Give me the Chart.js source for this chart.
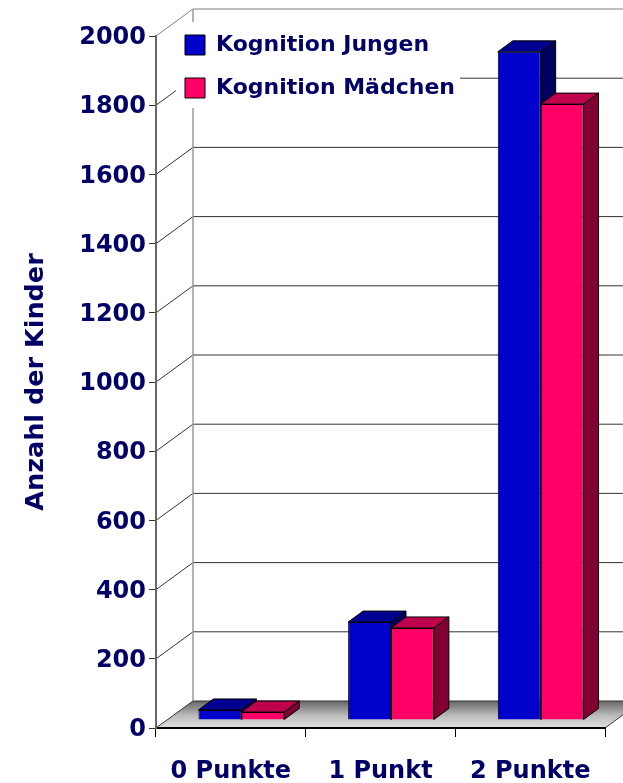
<!DOCTYPE html>
<html><head><meta charset="utf-8">
<style>html,body{margin:0;padding:0;background:#fff}canvas{display:block}</style>
<script src="https://cdn.jsdelivr.net/npm/chart.js@4"></script>
</head><body><canvas id="c" width="623" height="783"></canvas>
<script>
const categories = ['0 Punkte', '1 Punkt', '2 Punkte'];
const jungen = [29, 283, 1931];
const maedchen = [23, 266, 1780];
const seriesNames = ['Kognition Jungen', 'Kognition Mädchen'];
const yTickStep = 200;
const yMax = 2000;

const FONT = '"DejaVu Sans", sans-serif';
const NAVY = '#000066';
const WALL = {dx: 37, dy: 27};       // depth of the chart box
const BAR_SHIFT = {dx: 10.5, dy: 8}; // bars stand inside the floor
const BAR_DEPTH = {dx: 15, dy: 11};
const SHADES = [{top: '#000090', side: '#000060'}, {top: '#BF004D', side: '#800033'}];

const box3d = {
  id: 'box3d',
  afterDatasetsUpdate(chart) {
    chart.getSortedVisibleDatasetMetas().forEach(m => m.data.forEach(el => {
      el.x += BAR_SHIFT.dx; el.y -= BAR_SHIFT.dy; el.base -= BAR_SHIFT.dy;
    }));
  },
  afterLayout(chart) {
    const l = chart.legend;
    const w = l.width, h = l.height;
    l.left = 164; l.right = 164 + w; l.top = 13; l.bottom = 13 + h;
  },
  beforeDraw(chart) {
    const {ctx, chartArea: a, scales: {y}} = chart;
    const W = chart.width;
    ctx.save();
    // floor
    const y0 = y.getPixelForValue(0);
    const g = ctx.createLinearGradient(0, y0 - WALL.dy, 0, y0);
    g.addColorStop(0, '#666666'); g.addColorStop(.55, '#bdbdbd'); g.addColorStop(1, '#e0e0e0');
    ctx.fillStyle = g;
    ctx.beginPath();
    ctx.moveTo(a.left, y0); ctx.lineTo(a.right, y0);
    ctx.lineTo(a.right + WALL.dx, y0 - WALL.dy); ctx.lineTo(a.left + WALL.dx, y0 - WALL.dy);
    ctx.closePath(); ctx.fill();
    // walls
    for (let v = 0; v <= yMax; v += yTickStep) {
      const p = y.getPixelForValue(v);
      ctx.lineWidth = 1;
      ctx.strokeStyle = v === yMax ? '#808080' : '#333333';
      ctx.beginPath();
      ctx.moveTo(a.left, p); ctx.lineTo(a.left + WALL.dx, p - WALL.dy);
      ctx.lineTo(W, p - WALL.dy);
      ctx.stroke();
    }
    ctx.strokeStyle = '#333333';
    ctx.beginPath();
    ctx.moveTo(a.right, y0); ctx.lineTo(a.right + WALL.dx, y0 - WALL.dy);
    ctx.stroke();
    ctx.strokeStyle = '#9a9a9a'; ctx.lineWidth = 1.5;
    ctx.beginPath();
    ctx.moveTo(a.left + WALL.dx, y.getPixelForValue(yMax) - WALL.dy);
    ctx.lineTo(a.left + WALL.dx, y0 - WALL.dy);
    ctx.stroke();
    // legend background
    ctx.fillStyle = '#fff';
    ctx.fillRect(a.left + 20, y.getPixelForValue(yMax) - 14, 284, 86);
    ctx.restore();
  },
  beforeDatasetsDraw(chart) {
    const {ctx} = chart;
    ctx.save();
    ctx.lineWidth = 1; ctx.strokeStyle = '#000'; ctx.lineJoin = 'round';
    const n = chart.data.labels.length;
    for (let i = 0; i < n; i++) {
      chart.data.datasets.forEach((ds, d) => {
        const el = chart.getDatasetMeta(d).data[i];
        const L = el.x - el.width / 2, R = el.x + el.width / 2, T = el.y, B = el.base;
        const {dx, dy} = BAR_DEPTH;
        ctx.fillStyle = SHADES[d].top;
        ctx.beginPath();
        ctx.moveTo(L, T); ctx.lineTo(L + dx, T - dy); ctx.lineTo(R + dx, T - dy); ctx.lineTo(R, T);
        ctx.closePath(); ctx.fill(); ctx.stroke();
        ctx.fillStyle = SHADES[d].side;
        ctx.beginPath();
        ctx.moveTo(R, T); ctx.lineTo(R + dx, T - dy); ctx.lineTo(R + dx, B - dy); ctx.lineTo(R, B);
        ctx.closePath(); ctx.fill(); ctx.stroke();
      });
    }
    ctx.restore();
  }
};

new Chart(document.getElementById('c'), {
  type: 'bar',
  data: {
    labels: categories,
    datasets: [
      {label: seriesNames[0], data: jungen, backgroundColor: '#0000CC', borderColor: '#000', borderWidth: 1},
      {label: seriesNames[1], data: maedchen, backgroundColor: '#FF0066', borderColor: '#000', borderWidth: 1}
    ]
  },
  plugins: [box3d],
  options: {
    responsive: false,
    animation: false,
    layout: {padding: {top: 36, right: 18, left: 0, bottom: 0}},
    datasets: {bar: {categoryPercentage: 0.573, barPercentage: 1}},
    plugins: {
      tooltip: {enabled: false},
      title: {display: false},
      legend: {
        display: true,
        position: 'chartArea',
        align: 'start',
        labels: {
          boxWidth: 20, boxHeight: 20, padding: 21, color: NAVY,
          font: {family: FONT, weight: 'bold', size: 22}
        }
      }
    },
    scales: {
      x: {
        grid: {display: true, drawOnChartArea: false, drawTicks: true, tickLength: 9, color: '#000', lineWidth: 1},
        border: {display: true, color: '#000', width: 2},
        ticks: {color: NAVY, padding: 20, maxRotation: 0, autoSkip: false, font: {family: FONT, weight: 'bold', size: 24}},
        afterFit(s) { s.height = 55; }
      },
      y: {
        min: 0, max: yMax,
        grid: {display: true, drawOnChartArea: false, drawTicks: true, tickLength: 7, color: '#333', lineWidth: 1},
        border: {display: true, color: '#666', width: 2},
        ticks: {stepSize: yTickStep, color: NAVY, padding: 3, labelOffset: 2, callback: v => String(v), font: {family: FONT, weight: 'bold', size: 24}},
        title: {display: true, text: 'Anzahl der Kinder', color: NAVY, padding: {top: 21, bottom: 0}, font: {family: FONT, weight: 'bold', size: 25.5}},
        afterFit(s) { s.width = 156; }
      }
    }
  }
});
</script></body></html>
